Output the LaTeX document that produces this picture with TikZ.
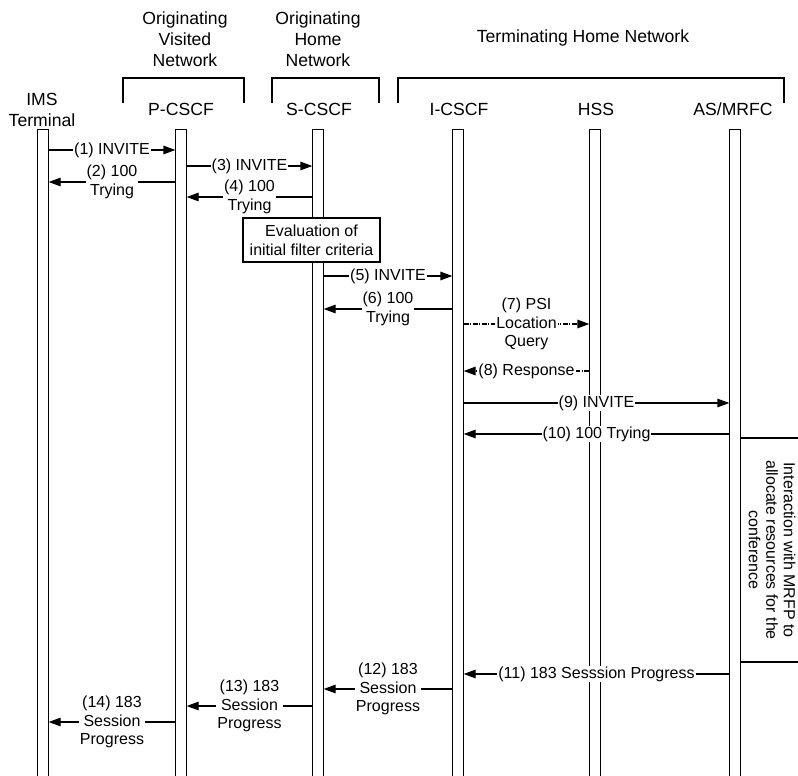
\documentclass[tikz,border=0pt]{standalone}
\usepackage{fontspec}
\setmainfont{Liberation Sans}
\usetikzlibrary{arrows.meta}

\begin{document}
\begin{tikzpicture}[x=1pt,y=-1pt,line width=1.3pt,
	bar/.style={minimum width=10pt,minimum height=646pt,inner sep=0pt,fill=white},
	head/.style={align=center,font=\fontsize{17.6}{21}\selectfont},
	msg/.style={-{Triangle[length=12pt,width=8.5pt]}},
	query/.style={msg,dash pattern=on 5pt off 1.5pt on 1pt off 1.5pt},
	lbl/.style={midway,fill=white,inner sep=1pt,align=center,font=\fontsize{16}{18.8}\selectfont}]

\useasboundingbox (0,0) rectangle (798,776);

% network headers
\node[head] (visited) at (185,39) {Originating\\Visited\\Network};
\node[head] (home) at (318,39) {Originating\\Home\\Network};
\node[head] (term) at (583,38) {Terminating Home Network};

% brackets
\draw (123,103) |- (244,78) -- (244,103);
\draw (272,103) |- (379,78) -- (379,103);
\draw (398,103) |- (784,78) -- (784,103);

% entity names
\node[head] (imsname) at (42,110) {IMS\\Terminal};
\node[head] (pname) at (181,109) {P-CSCF};
\node[head] (sname) at (319,109) {S-CSCF};
\node[head] (iname) at (459,109) {I-CSCF};
\node[head] (hname) at (596,109) {HSS};
\node[head] (aname) at (733,109) {AS/MRFC};

% lifelines
\node[bar] (ims) at (43,453) {};
\node[bar] (pcscf) at (181,453) {};
\node[bar] (scscf) at (318,453) {};
\node[bar] (icscf) at (458,453) {};
\node[bar] (hss) at (595,453) {};
\node[bar] (as) at (735,453) {};
\foreach \n in {ims,pcscf,scscf,icscf,hss,as}
	\draw (\n.south west) -- (\n.north west) -- (\n.north east) -- (\n.south east);

% iFC evaluation
\node[draw,fill=white,align=center,minimum width=137pt,minimum height=44pt,inner sep=0pt,
	font=\fontsize{16}{18.8}\selectfont] (ifc) at (311.5,240) {Evaluation of\\initial filter criteria};

% messages
\draw[msg] (ims.east |- 0,150) -- node[lbl] {(1) INVITE} (pcscf.west |- 0,150);
\draw[msg] (pcscf.west |- 0,182) -- node[lbl] {(2) 100\\Trying} (ims.east |- 0,182);
\draw[msg] (pcscf.east |- 0,166) -- node[lbl] {(3) INVITE} (scscf.west |- 0,166);
\draw[msg] (scscf.west |- 0,197) -- node[lbl] {(4) 100\\Trying} (pcscf.east |- 0,197);
\draw[msg] (scscf.east |- 0,276) -- node[lbl] {(5) INVITE} (icscf.west |- 0,276);
\draw[msg] (icscf.west |- 0,309) -- node[lbl] {(6) 100\\Trying} (scscf.east |- 0,309);
\draw[query] (icscf.east |- 0,324) -- node[lbl] {(7) PSI\\Location\\Query} (hss.west |- 0,324);
\draw[query] (hss.west |- 0,371) -- node[lbl] {(8) Response} (icscf.east |- 0,371);
\draw[msg] (icscf.east |- 0,403) -- node[lbl] {(9) INVITE} (as.west |- 0,403);
\draw[msg] (as.west |- 0,434) -- node[lbl] {(10) 100 Trying} (icscf.east |- 0,434);

% resource allocation with the MRFP
\coordinate (boxtop) at (800,438);
\coordinate (boxbot) at (800,662);
\draw (as.east |- boxtop) -- (boxtop);
\draw (as.east |- boxbot) -- (boxbot);
\node[rotate=-90,align=center,font=\fontsize{16}{17.5}\selectfont] (mrfp) at (772,550)
	{Interaction with MRFP to\\allocate resources for the\\conference};

\draw[msg] (as.west |- 0,674) -- node[lbl] {(11) 183 Sesssion Progress} (icscf.east |- 0,674);
\draw[msg] (icscf.west |- 0,689) -- node[lbl] {(12) 183\\Session\\Progress} (scscf.east |- 0,689);
\draw[msg] (scscf.west |- 0,706) -- node[lbl] {(13) 183\\Session\\Progress} (pcscf.east |- 0,706);
\draw[msg] (pcscf.west |- 0,722) -- node[lbl] {(14) 183\\Session\\Progress} (ims.east |- 0,722);

\end{tikzpicture}
\end{document}
